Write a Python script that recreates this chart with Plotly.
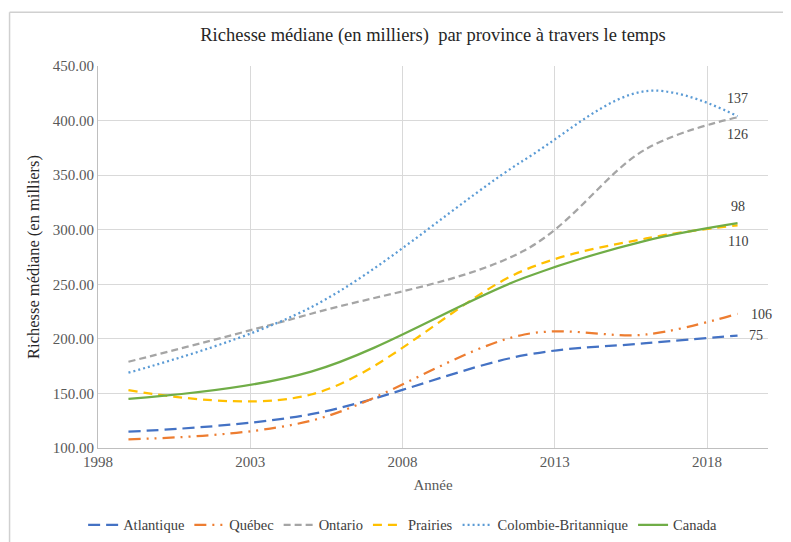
import plotly.graph_objects as go

years = [1999, 2005, 2012, 2016, 2019]
atlantique = [115, 131, 185, 196, 203]
quebec = [108, 125, 204, 204, 223]
ontario = [179, 223, 281, 374, 403]
prairies = [153, 149, 263, 292, 304]
colombie = [169, 229, 364, 427, 404]
canada = [145, 170, 256, 290, 306]

series_names = ["Atlantique", "Québec", "Ontario", "Prairies", "Colombie-Britannique", "Canada"]
series_values = [atlantique, quebec, ontario, prairies, colombie, canada]
colors = ["#4472C4", "#ED7D31", "#A5A5A5", "#FFC000", "#5B9BD5", "#70AD47"]
dashes = ["12px,6px", "12px,6px,2px,6px,2px,6px", "7px,4px", "9px,6px", "2px,3px", "solid"]

label_texts = ["137", "126", "98", "110", "106", "75"]
label_x = [2019.0, 2019.0, 2019.0, 2019.0, 2019.8, 2019.6]
label_y = [420, 387, 321, 289, 222, 203]

SERIF = "Liberation Serif"

fig = go.Figure()
for name, vals, col, dsh in zip(series_names, series_values, colors, dashes):
    fig.add_trace(go.Scatter(
        x=years, y=vals, name=name, mode="lines",
        line=dict(color=col, width=2.25, dash=dsh, shape="spline", smoothing=1.0),
    ))

for t, lx, ly in zip(label_texts, label_x, label_y):
    fig.add_annotation(x=lx, y=ly, text=t, showarrow=False,
                       font=dict(family=SERIF, size=14, color="#404040"))

# chart frame (partially cropped in the reference): top and left edges
fig.add_shape(type="line", xref="paper", yref="paper",
              x0=-0.132, x1=1.03, y0=1.141, y1=1.141,
              line=dict(color="#D0D0D0", width=1.5))
fig.add_shape(type="line", xref="paper", yref="paper",
              x0=-0.132, x1=-0.132, y0=1.141, y1=-0.25,
              line=dict(color="#D0D0D0", width=1.5))

fig.update_layout(
    width=783, height=534,
    margin=dict(l=90, r=23, t=58, b=94),
    paper_bgcolor="white", plot_bgcolor="white",
    font=dict(family=SERIF, size=15, color="#595959"),
    title=dict(text="Richesse médiane (en milliers)  par province à travers le temps",
               x=0.5, xref="paper", xanchor="center", y=0.95, yref="container", yanchor="middle",
               pad=dict(t=0, b=0),
               font=dict(family=SERIF, size=18.5, color="#262626")),
    xaxis=dict(range=[1998, 2020], dtick=5, tick0=1998, showgrid=True, automargin=False,
               gridcolor="#D9D9D9", gridwidth=1, showline=True, linecolor="#BFBFBF",
               zeroline=False, ticks="", tickfont=dict(family=SERIF, size=15, color="#595959"),
               title=dict(text="Année", font=dict(family=SERIF, size=15, color="#595959"), standoff=10)),
    yaxis=dict(range=[100, 450], dtick=50, tickformat=".2f", showgrid=True, automargin=False,
               gridcolor="#D9D9D9", gridwidth=1, showline=True, linecolor="#BFBFBF",
               zeroline=False, ticks="", tickfont=dict(family=SERIF, size=15, color="#595959"),
               title=dict(text="Richesse médiane (en milliers)", font=dict(family=SERIF, size=16.5, color="#262626"), standoff=8)),
    legend=dict(orientation="h", x=0.504, xref="container", xanchor="center",
                y=0.032, yref="container", yanchor="middle",
                font=dict(family=SERIF, size=14.5, color="#404040"), tracegroupgap=0),
    showlegend=True,
)

fig.write_html("out.html")
